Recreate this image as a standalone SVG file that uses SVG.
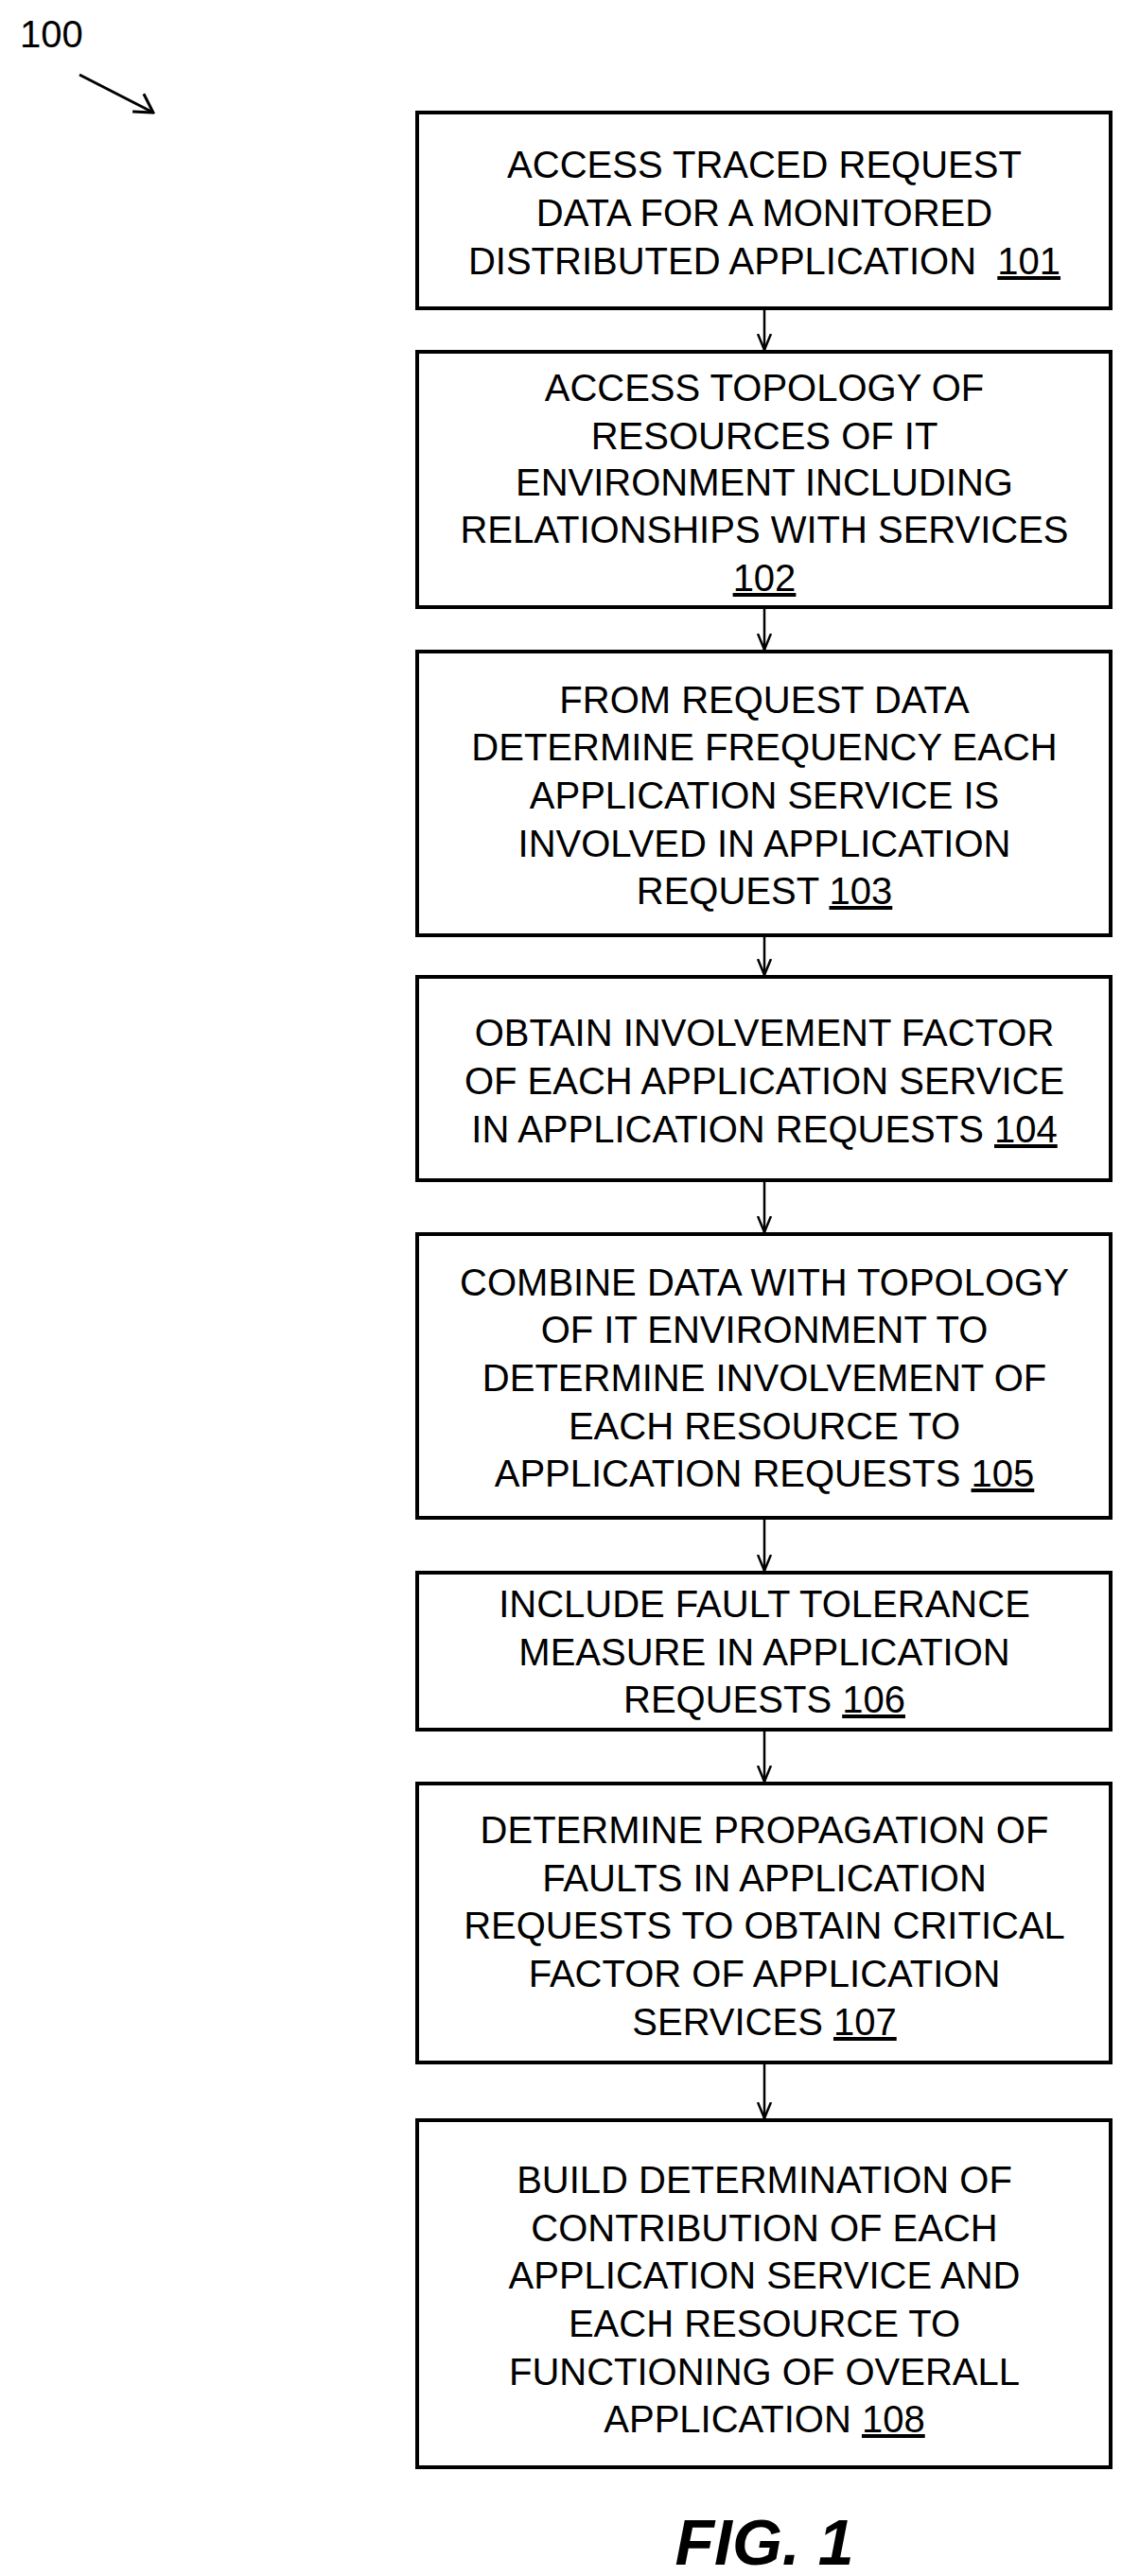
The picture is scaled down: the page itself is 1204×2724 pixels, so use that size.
<svg xmlns="http://www.w3.org/2000/svg" width="1204" height="2724" viewBox="0 0 1204 2724">
<style>
.b{fill:#fff;stroke:#000;stroke-width:4}
.t{font-family:"Liberation Sans",Arial,sans-serif;font-size:40px;text-anchor:middle;fill:#000}
.u{text-decoration:underline}
.c{stroke:#000;stroke-width:2.5;fill:none}
</style>
<defs><marker id="a" markerWidth="18" markerHeight="16" refX="17" refY="8" orient="auto" markerUnits="userSpaceOnUse" viewBox="0 0 18 16"><path d="M0,1 L17,8 L0,15" fill="none" stroke="#000" stroke-width="2.5"/></marker>
<marker id="a2" markerWidth="30" markerHeight="30" refX="28" refY="15" orient="auto" markerUnits="userSpaceOnUse" viewBox="0 0 30 30"><path d="M10,2 L28,15 L8,24" fill="none" stroke="#000" stroke-width="3"/></marker></defs>
<text x="21" y="50" style="font-family:'Liberation Sans',Arial,sans-serif;font-size:40px">100</text>
<line x1="84" y1="79" x2="162" y2="119" stroke="#000" stroke-width="3" marker-end="url(#a2)"/>
<g id="n101"><rect class="b" x="441" y="119" width="733" height="207"/><text class="t" x="808" y="188">ACCESS TRACED REQUEST</text><text class="t" x="808" y="239">DATA FOR A MONITORED</text><text class="t" x="808" y="290">DISTRIBUTED APPLICATION &#160;<tspan class="u">101</tspan></text></g>
<g id="n102"><rect class="b" x="441" y="372" width="733" height="270"/><text class="t" x="808" y="424">ACCESS TOPOLOGY OF</text><text class="t" x="808" y="475">RESOURCES OF IT</text><text class="t" x="808" y="524">ENVIRONMENT INCLUDING</text><text class="t" x="808" y="574">RELATIONSHIPS WITH SERVICES</text><text class="t u" x="808" y="625">102</text></g>
<g id="n103"><rect class="b" x="441" y="689" width="733" height="300"/><text class="t" x="808" y="754">FROM REQUEST DATA</text><text class="t" x="808" y="804">DETERMINE FREQUENCY EACH</text><text class="t" x="808" y="855">APPLICATION SERVICE IS</text><text class="t" x="808" y="906">INVOLVED IN APPLICATION</text><text class="t" x="808" y="956">REQUEST <tspan class="u">103</tspan></text></g>
<g id="n104"><rect class="b" x="441" y="1033" width="733" height="215"/><text class="t" x="808" y="1106">OBTAIN INVOLVEMENT FACTOR</text><text class="t" x="808" y="1157">OF EACH APPLICATION SERVICE</text><text class="t" x="808" y="1208">IN APPLICATION REQUESTS <tspan class="u">104</tspan></text></g>
<g id="n105"><rect class="b" x="441" y="1305" width="733" height="300"/><text class="t" x="808" y="1370">COMBINE DATA WITH TOPOLOGY</text><text class="t" x="808" y="1420">OF IT ENVIRONMENT TO</text><text class="t" x="808" y="1471">DETERMINE INVOLVEMENT OF</text><text class="t" x="808" y="1522">EACH RESOURCE TO</text><text class="t" x="808" y="1572">APPLICATION REQUESTS <tspan class="u">105</tspan></text></g>
<g id="n106"><rect class="b" x="441" y="1663" width="733" height="166"/><text class="t" x="808" y="1710">INCLUDE FAULT TOLERANCE</text><text class="t" x="808" y="1761">MEASURE IN APPLICATION</text><text class="t" x="808" y="1811">REQUESTS <tspan class="u">106</tspan></text></g>
<g id="n107"><rect class="b" x="441" y="1886" width="733" height="295"/><text class="t" x="808" y="1949">DETERMINE PROPAGATION OF</text><text class="t" x="808" y="2000">FAULTS IN APPLICATION</text><text class="t" x="808" y="2050">REQUESTS TO OBTAIN CRITICAL</text><text class="t" x="808" y="2101">FACTOR OF APPLICATION</text><text class="t" x="808" y="2152">SERVICES <tspan class="u">107</tspan></text></g>
<g id="n108"><rect class="b" x="441" y="2242" width="733" height="367"/><text class="t" x="808" y="2319">BUILD DETERMINATION OF</text><text class="t" x="808" y="2370">CONTRIBUTION OF EACH</text><text class="t" x="808" y="2420">APPLICATION SERVICE AND</text><text class="t" x="808" y="2471">EACH RESOURCE TO</text><text class="t" x="808" y="2522">FUNCTIONING OF OVERALL</text><text class="t" x="808" y="2572">APPLICATION <tspan class="u">108</tspan></text></g>
<g id="connectors">
<line class="c" x1="808" y1="328" x2="808" y2="370" marker-end="url(#a)"/>
<line class="c" x1="808" y1="644" x2="808" y2="687" marker-end="url(#a)"/>
<line class="c" x1="808" y1="991" x2="808" y2="1031" marker-end="url(#a)"/>
<line class="c" x1="808" y1="1250" x2="808" y2="1303" marker-end="url(#a)"/>
<line class="c" x1="808" y1="1607" x2="808" y2="1661" marker-end="url(#a)"/>
<line class="c" x1="808" y1="1831" x2="808" y2="1884" marker-end="url(#a)"/>
<line class="c" x1="808" y1="2183" x2="808" y2="2240" marker-end="url(#a)"/>
</g>
<text x="808" y="2712" style="font-family:'Liberation Sans',Arial,sans-serif;font-size:68px;font-weight:bold;font-style:italic;text-anchor:middle">FIG. 1</text>
</svg>
